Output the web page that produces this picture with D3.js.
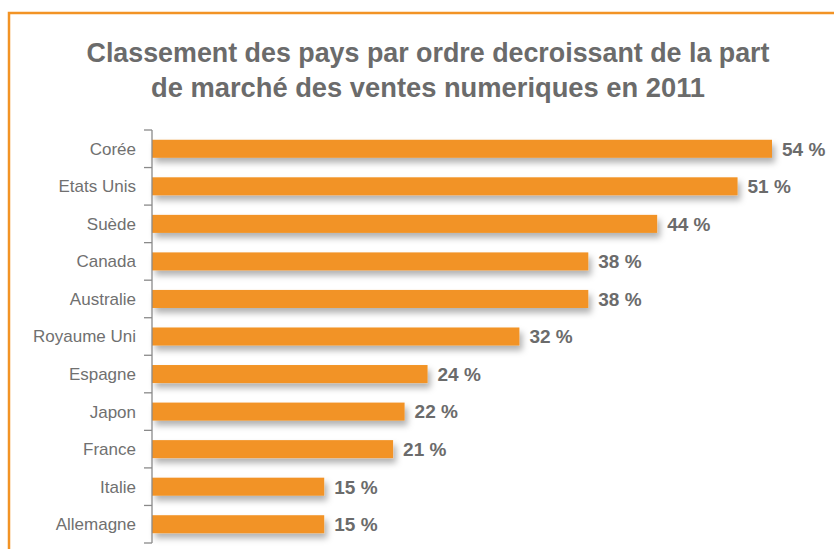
<!DOCTYPE html>
<html><head><meta charset="utf-8">
<script src="https://cdn.jsdelivr.net/npm/d3@7"></script>
<style>html,body{margin:0;padding:0;background:#fff;overflow:hidden}</style>
</head><body>
<svg id="chart" width="834" height="549"></svg>
<script>
const categories = ["Corée","Etats Unis","Suède","Canada","Australie","Royaume Uni","Espagne","Japon","France","Italie","Allemagne"];
const values = [54,51,44,38,38,32,24,22,21,15,15];
const valueLabels = ["54 %","51 %","44 %","38 %","38 %","32 %","24 %","22 %","21 %","15 %","15 %"];
const titleLines = ["Classement des pays par ordre decroissant de la part","de marché des ventes numeriques en 2011"];

const orange = "#F29325", grey = "#6b6b6b";
const svg = d3.select("#chart");
const defs = svg.append("defs");
const f = defs.append("filter").attr("id","sh").attr("x","-5%").attr("y","-50%").attr("width","115%").attr("height","250%");
f.append("feDropShadow").attr("dx",3).attr("dy",5).attr("stdDeviation",3).attr("flood-color","#000").attr("flood-opacity",0.3);

svg.append("rect").attr("x",9).attr("y",13).attr("width",900).attr("height",600)
  .attr("fill","none").attr("stroke",orange).attr("stroke-width",2.5);

const titleW = [683, 554];
titleLines.forEach((t,i)=>{
  svg.append("text").attr("x",428).attr("y",62+i*35).attr("text-anchor","middle")
    .attr("font-family","Liberation Sans, Arial, sans-serif").attr("font-weight","bold")
    .attr("font-size",27).attr("fill",grey)
    .attr("textLength",titleW[i]).attr("lengthAdjust","spacingAndGlyphs").text(t);
});

const x = d3.scaleLinear().domain([0,54]).range([152,772]);
const y = d3.scaleBand().domain(categories).range([130,543]).paddingInner(0.52).paddingOuter(0.26);

const g = svg.append("g");
g.selectAll("rect.bar").data(values).join("rect").attr("class","bar")
  .attr("x",x(0)).attr("y",(d,i)=>y(categories[i]))
  .attr("width",d=>x(d)-x(0)).attr("height",y.bandwidth())
  .attr("fill",orange).attr("filter","url(#sh)");

// axis
const axis = svg.append("g").attr("stroke","#8a8a8a").attr("stroke-width",1.3);
axis.append("line").attr("x1",152).attr("x2",152).attr("y1",130).attr("y2",543);
const bounds = d3.range(categories.length+1).map(i=>130 + i*(543-130)/categories.length);
axis.selectAll("line.t").data(bounds).join("line").attr("class","t")
  .attr("x1",144).attr("x2",152).attr("y1",d=>d).attr("y2",d=>d);

svg.selectAll("text.cat").data(categories).join("text").attr("class","cat")
  .attr("x",136).attr("y",d=>y(d)+y.bandwidth()/2).attr("dy","0.35em")
  .attr("text-anchor","end").attr("font-family","Liberation Sans, Arial, sans-serif")
  .attr("font-size",17).attr("fill","#707070").text(d=>d);

svg.selectAll("text.val").data(values).join("text").attr("class","val")
  .attr("x",d=>x(d)+10).attr("y",(d,i)=>y(categories[i])+y.bandwidth()/2).attr("dy","0.36em")
  .attr("font-family","Liberation Sans, Arial, sans-serif").attr("font-weight","bold")
  .attr("font-size",19).attr("fill",grey).text((d,i)=>valueLabels[i]);
</script>
</body></html>
